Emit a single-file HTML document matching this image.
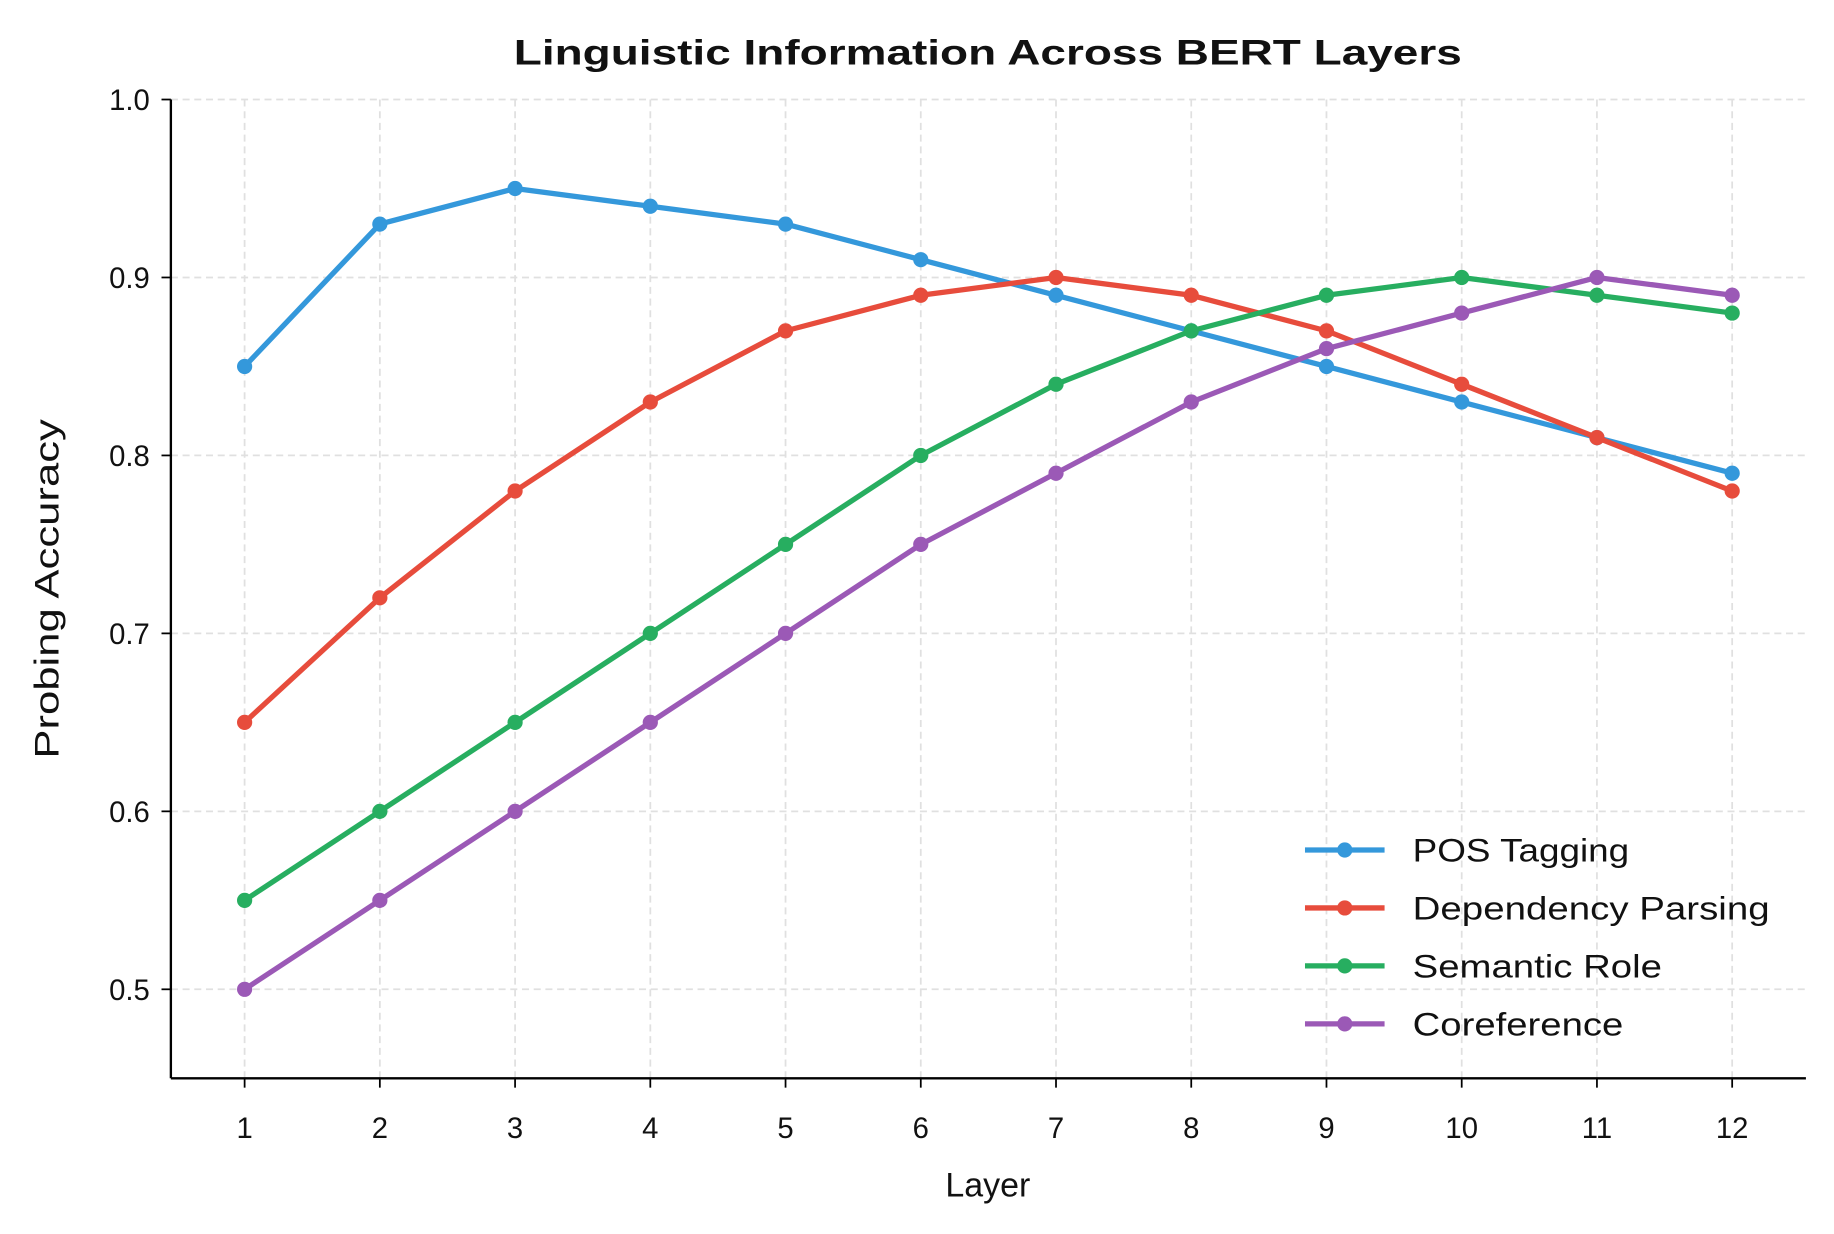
<!DOCTYPE html>
<html><head><meta charset="utf-8"><style>
html,body{margin:0;padding:0;background:#fff}
svg{display:block;font-family:"Liberation Sans",sans-serif}
</style></head><body>
<svg id="s" width="1834" height="1234" viewBox="0 0 1567 1054" preserveAspectRatio="none" xmlns="http://www.w3.org/2000/svg">
<rect width="1567" height="1054" fill="#fff"/>
<g id="grid" stroke="#e0e0e0" stroke-width="1.5" stroke-dasharray="6,4"></g>
<g id="series"></g>
<line x1="146" y1="85" x2="146" y2="921" stroke="#000" stroke-width="2"/>
<line x1="146" y1="921" x2="1543" y2="921" stroke="#000" stroke-width="2"/>
<g id="ticks" font-size="25" fill="#111"></g>
<text x="844" y="55" text-anchor="middle" font-size="30" font-weight="bold" fill="#111" textLength="810" lengthAdjust="spacingAndGlyphs">Linguistic Information Across BERT Layers</text>
<text x="844" y="1022" text-anchor="middle" font-size="29" fill="#111">Layer</text>
<text transform="translate(50,503) rotate(-90)" text-anchor="middle" font-size="29" fill="#111" textLength="290" lengthAdjust="spacingAndGlyphs">Probing Accuracy</text>
<g id="legend" font-size="28" fill="#111"></g>
</svg>
<script>
var NS="http://www.w3.org/2000/svg";
function X(i){return 209+(i-1)*(1480-209)/11}
function Y(v){return 85+(1-v)*1520}
function el(p,t,a,txt){var e=document.createElementNS(NS,t);for(var k in a)e.setAttribute(k,a[k]);if(txt!=null)e.textContent=txt;document.getElementById(p).appendChild(e);return e}
for(var i=1;i<=12;i++){
 el("grid","line",{x1:X(i),y1:85,x2:X(i),y2:921});
 el("ticks","line",{x1:X(i),y1:921,x2:X(i),y2:929,stroke:"#000","stroke-width":1.5});
 el("ticks","text",{x:X(i),y:972,"text-anchor":"middle"},String(i));
}
[0.5,0.6,0.7,0.8,0.9,1.0].forEach(function(v){
 el("grid","line",{x1:146,y1:Y(v),x2:1543,y2:Y(v)});
 el("ticks","line",{x1:138,y1:Y(v),x2:146,y2:Y(v),stroke:"#000","stroke-width":1.5});
 el("ticks","text",{x:128,y:Y(v)+9,"text-anchor":"end"},v.toFixed(1));
});
var S=[
["POS Tagging","#3498db",[.85,.93,.95,.94,.93,.91,.89,.87,.85,.83,.81,.79],185],
["Dependency Parsing","#e74c3c",[.65,.72,.78,.83,.87,.89,.90,.89,.87,.84,.81,.78],305],
["Semantic Role","#27ae60",[.55,.60,.65,.70,.75,.80,.84,.87,.89,.90,.89,.88],213],
["Coreference","#9b59b6",[.50,.55,.60,.65,.70,.75,.79,.83,.86,.88,.90,.89],180]];
S.forEach(function(s,k){
 var pts=s[2].map(function(v,i){return X(i+1)+","+Y(v)}).join(" ");
 el("series","polyline",{points:pts,fill:"none",stroke:s[1],"stroke-width":4.5,"stroke-linejoin":"round"});
 s[2].forEach(function(v,i){el("series","circle",{cx:X(i+1),cy:Y(v),r:6.5,fill:s[1]})});
 var ly=726+k*49.5;
 el("legend","line",{x1:1115,y1:ly,x2:1183,y2:ly,stroke:s[1],"stroke-width":4.5});
 el("legend","circle",{cx:1149,cy:ly,r:6.5,fill:s[1]});
 el("legend","text",{x:1207,y:ly+10,textLength:s[3],lengthAdjust:"spacingAndGlyphs"},s[0]);
});
</script>
</body></html>
